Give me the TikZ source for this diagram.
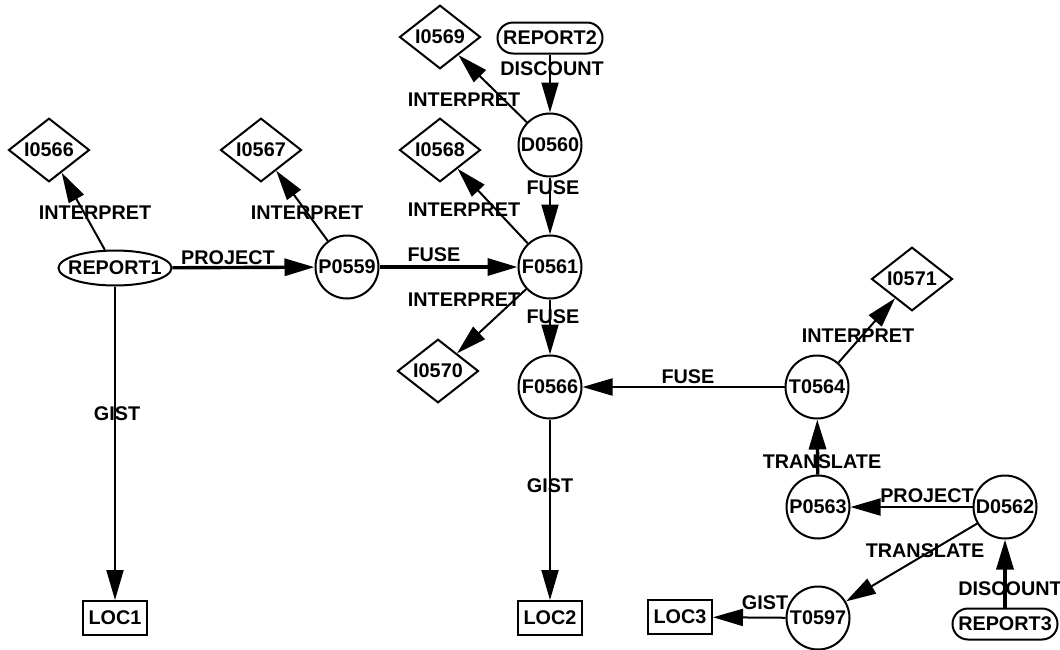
\documentclass[tikz,border=0pt]{standalone}
\usepackage{fontspec}
\setmainfont{Liberation Sans}
\usetikzlibrary{shapes.geometric,shapes.misc,arrows.meta}
\begin{document}
\begin{tikzpicture}[x=0.5pt,y=-0.5pt,
  every node/.style={font=\fontsize{9.9pt}{11pt}\selectfont\bfseries, inner sep=0pt},
  proc/.style={circle,draw,line width=1pt,minimum size=31.5pt},
  interp/.style={diamond,draw,line width=1pt,minimum width=40.5pt,minimum height=29.5pt},
  report/.style={rounded rectangle,draw,line width=1pt,minimum width=52.5pt,minimum height=15.5pt},
  oval/.style={ellipse,draw,line width=1pt,minimum width=56.5pt,minimum height=17.5pt},
  loc/.style={rectangle,draw,line width=1pt,minimum width=32pt,minimum height=17pt},
  lbl/.style={},
  link/.style={line width=1pt,-{Triangle[length=15pt,width=8.5pt]}},
  strong/.style={link,line width=1.7pt},
]
\useasboundingbox (0,0) rectangle (1060,649);

% sources
\node[oval]   (report1) at (115,268) {\makebox[0pt]{REPORT1}};
\node[report] (report2) at (550,38)  {\makebox[0pt]{REPORT2}};
\node[report] (report3) at (1005,624) {\makebox[0pt]{REPORT3}};

% processing steps
\node[proc] (p0559) at (347,267) {P0559};
\node[proc] (f0561) at (550,267) {F0561};
\node[proc] (d0560) at (550,145) {D0560};
\node[proc] (f0566) at (550,387) {F0566};
\node[proc] (t0564) at (817,387) {T0564};
\node[proc] (p0563) at (818,507) {P0563};
\node[proc] (d0562) at (1005,507) {D0562};
\node[proc] (t0597) at (818,618) {T0597};

% interpretations
\node[interp] (i0566) at (49,150)  {I0566};
\node[interp] (i0567) at (261,150) {I0567};
\node[interp] (i0569) at (440,37)  {I0569};
\node[interp] (i0568) at (440,150) {I0568};
\node[interp] (i0570) at (438,371) {I0570};
\node[interp] (i0571) at (912,279) {I0571};

% locations
\node[loc] (loc1) at (115,618) {LOC1};
\node[loc] (loc2) at (550,618) {LOC2};
\node[loc] (loc3) at (680,617) {LOC3};

% connectors
\draw[link]   (report1) -- (i0566);
\draw[strong] (report1) -- (p0559);
\draw[link]   (report1) -- (loc1);
\draw[link]   (p0559) -- (i0567);
\draw[strong] (p0559) -- (f0561);
\draw[link]   (report2) -- (d0560);
\draw[link]   (d0560) -- (i0569);
\draw[link]   (d0560) -- (f0561);
\draw[link]   (f0561) -- (i0568);
\draw[link]   (f0561) -- (i0570);
\draw[link]   (f0561) -- (f0566);
\draw[link]   (t0564) -- (f0566);
\draw[link]   (f0566) -- (loc2);
\draw[link]   (t0564) -- (i0571);
\draw[strong] (p0563) -- (t0564);
\draw[link]   (d0562) -- (p0563);
\draw[link]   (d0562) -- (t0597);
\draw[link]   (t0597) -- (loc3);
\draw[strong] (report3) -- (d0562);

% connector labels
\node[lbl] (l1)  at (95,213)   {INTERPRET};
\node[lbl] (l2)  at (228,258)  {PROJECT};
\node[lbl] (l3)  at (117,414)  {GIST};
\node[lbl] (l4)  at (307,213)  {INTERPRET};
\node[lbl] (l5)  at (434,255)  {FUSE};
\node[lbl] (l6)  at (552,69)   {DISCOUNT};
\node[lbl] (l7)  at (464,100)  {INTERPRET};
\node[lbl] (l8)  at (553,188)  {FUSE};
\node[lbl] (l9)  at (464,210)  {INTERPRET};
\node[lbl] (l10) at (464,300)  {INTERPRET};
\node[lbl] (l11) at (553,317)  {FUSE};
\node[lbl] (l12) at (688,377)  {FUSE};
\node[lbl] (l13) at (550,486)  {GIST};
\node[lbl] (l14) at (858,336)  {INTERPRET};
\node[lbl] (l15) at (822,462)  {TRANSLATE};
\node[lbl] (l16) at (927,496)  {PROJECT};
\node[lbl] (l17) at (925,551)  {TRANSLATE};
\node[lbl] (l18) at (1010,589) {DISCOUNT};
\node[lbl] (l19) at (765,603)  {GIST};
\end{tikzpicture}
\end{document}
